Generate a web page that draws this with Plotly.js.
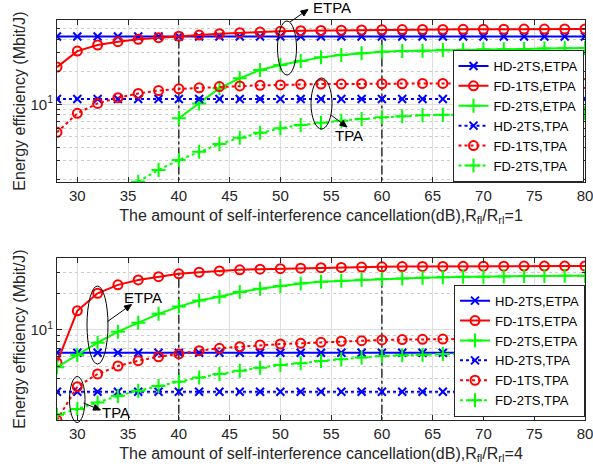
<!DOCTYPE html>
<html>
<head>
<meta charset="utf-8">
<script src="https://cdn.plot.ly/plotly-3.0.1.min.js"></script>
<style>
html,body{margin:0;padding:0;background:#fff;}
#chart{width:593px;height:467px;}
</style>
</head>
<body>
<div id="chart"></div>
<script>
// ---------- data ----------
const cancellation = [28,30,32,34,36,38,40,42,44,46,48,50,52,54,56,58,60,62,64,66,68,70,72,74,76,78,80];
const seriesNames = ['HD-2TS,ETPA','FD-1TS,ETPA','FD-2TS,ETPA','HD-2TS,TPA','FD-1TS,TPA','FD-2TS,TPA'];
const refLines = [40, 60];

// top panel, R_fl/R_rl = 1
const top_hd2ts_etpa = [42.5,42.5,42.5,42.5,42.5,42.5,42.5,42.5,42.5,42.5,42.5,42.5,42.5,42.5,42.5,42.5,42.5,42.5,42.5,42.5,42.5,42.5,42.5,42.5,42.5,42.5,42.5];
const top_fd1ts_etpa = [22.1,31.1,35.4,38.0,40.0,41.4,42.7,43.8,45.1,46.0,46.7,47.4,48.0,48.3,48.6,48.8,49.0,49.2,49.3,49.4,49.5,49.6,49.6,49.7,49.7,49.8,49.8];
const top_fd2ts_etpa = [null,null,null,null,null,null,7.42,10.2,14.1,17.4,20.8,23.1,25.2,27.2,28.6,29.7,30.7,31.1,31.4,31.8,32.0,32.3,32.4,32.6,32.8,33.0,33.2];
const top_hd2ts_tpa  = [11.2,11.2,11.2,11.2,11.2,11.2,11.2,11.2,11.2,11.2,11.2,11.2,11.2,11.2,11.2,11.2,11.2,11.2,11.2,11.2,11.2,11.2,11.2,11.2,11.2,11.2,11.2];
const top_fd1ts_tpa  = [5.5,8.25,10.2,11.5,12.6,13.4,13.9,14.2,14.6,14.8,15.0,15.1,15.3,15.4,15.4,15.5,15.5,15.5,15.6,15.6,15.6,15.6,15.6,15.6,15.6,15.6,15.6];
const top_fd2ts_tpa  = [null,null,null,null,1.92,2.47,3.05,3.64,4.28,4.91,5.46,5.99,6.43,6.76,7.05,7.31,7.58,7.74,7.91,8.01,8.07,8.12,8.16,8.2,8.23,8.26,8.3];

// bottom panel, R_fl/R_rl = 4
const bot_hd2ts_etpa = [6.49,6.49,6.49,6.49,6.49,6.49,6.49,6.49,6.49,6.49,6.49,6.49,6.49,6.49,6.49,6.49,6.49,6.49,6.49,6.49,6.49,6.49,6.49,6.49,6.49,6.49,6.49];
const bot_fd1ts_etpa = [5.37,14.4,20.1,23.6,25.9,27.6,29.1,30.0,30.8,31.4,31.8,32.1,32.4,32.7,32.9,33.1,33.3,33.4,33.5,33.55,33.6,33.65,33.7,33.72,33.75,33.78,33.8];
const bot_fd2ts_etpa = [4.92,6.21,7.85,9.68,11.5,13.6,15.6,17.5,18.8,20.6,21.9,23.1,24.2,25.1,25.5,26.0,26.4,26.7,27.0,27.3,27.5,27.6,27.7,27.9,28.0,28.1,28.1];
const bot_hd2ts_tpa  = [3.09,3.09,3.09,3.09,3.09,3.09,3.09,3.09,3.09,3.09,3.09,3.09,3.09,3.09,3.09,3.09,3.09,3.09,3.09,3.09,3.09,3.09,3.09,3.09,3.09,3.09,3.09];
const bot_fd1ts_tpa  = [1.80,3.40,4.33,5.04,5.57,6.01,6.34,6.75,7.06,7.28,7.52,7.66,7.76,7.91,8.07,8.16,8.27,8.33,8.38,8.42,8.44,8.46,8.48,8.49,8.5,8.5,8.5];
const bot_fd2ts_tpa  = [1.99,2.22,2.52,2.85,3.15,3.45,3.74,4.04,4.33,4.61,4.88,5.14,5.3,5.55,5.73,5.91,6.09,6.18,6.25,6.34,6.38,6.42,6.45,6.47,6.49,6.5,6.52];

const xTitles = ['The amount of self-interference cancellation(dB),R<sub>fl</sub>/R<sub>rl</sub>=1',
                 'The amount of self-interference cancellation(dB),R<sub>fl</sub>/R<sub>rl</sub>=4'];
const yTitle = 'Energy efficiency (Mbit/J)';

// ---------- layout geometry ----------
const W = 593, H = 467, ML = 57, MR = 8, MT = 20, MB = 47;
const PW = W - ML - MR, PH = H - MT - MB;
const px = v => (v - ML) / PW;
const py = v => (H - MB - v) / PH;
const topRange = [0.2806, 1.7806];
const botRange = [0.256, 1.595];

const FONT = 'Liberation Sans, Arial, Helvetica, sans-serif';
const AX = '#262626';
const BLUE = 'rgb(0,0,255)', RED = 'rgb(255,0,0)', GREEN = 'rgb(0,255,0)';

const styles = [
  {color: BLUE,  symbol: 'x-thin',      size: 8,  dash: 'solid'},
  {color: RED,   symbol: 'circle-open', size: 9,  dash: 'solid'},
  {color: GREEN, symbol: 'cross-thin',  size: 10, dash: 'solid'},
  {color: BLUE,  symbol: 'x-thin',      size: 8,  dash: 'dot'},
  {color: RED,   symbol: 'circle-open', size: 9,  dash: 'dot'},
  {color: GREEN, symbol: 'cross-thin',  size: 10, dash: 'dot'}
];

const topSeries = [top_hd2ts_etpa, top_fd1ts_etpa, top_fd2ts_etpa, top_hd2ts_tpa, top_fd1ts_tpa, top_fd2ts_tpa];
const botSeries = [bot_hd2ts_etpa, bot_fd1ts_etpa, bot_fd2ts_etpa, bot_hd2ts_tpa, bot_fd1ts_tpa, bot_fd2ts_tpa];

const traces = [];
function addRefLines(series, xa, ya, range) {
  refLines.forEach(xv => {
    const i = cancellation.indexOf(xv);
    traces.push({x: [xv, xv], y: [Math.pow(10, range[0]) * 0.8, series[i]], xaxis: xa, yaxis: ya,
      mode: 'lines', line: {color: '#000', width: 1.2, dash: 'dashdot'}, showlegend: false, hoverinfo: 'skip'});
  });
}
addRefLines(top_fd1ts_etpa, 'x', 'y', topRange);
addRefLines(bot_fd1ts_etpa, 'x2', 'y2', botRange);

function addSeries(list, xa, ya, legendId) {
  list.forEach((ys, k) => {
    const s = styles[k];
    traces.push({x: cancellation, y: ys, name: seriesNames[k], xaxis: xa, yaxis: ya, legend: legendId,
      mode: 'lines+markers', connectgaps: false,
      line: {color: s.color, width: 2, dash: s.dash},
      marker: {symbol: s.symbol, size: s.size, color: s.color, line: {color: s.color, width: 2}},
      hoverinfo: 'x+y+name'});
  });
}
addSeries(topSeries, 'x', 'y', 'legend');
addSeries(botSeries, 'x2', 'y2', 'legend2');

function xaxisCfg(title, anchor) {
  return {
    range: [28, 80], tick0: 0, dtick: 5, anchor: anchor,
    ticks: 'inside', ticklen: 5, tickcolor: AX, tickwidth: 1, mirror: 'ticks',
    showline: true, linecolor: AX, linewidth: 1, ticklabeloverflow: 'allow',
    showgrid: true, gridcolor: '#dedede', gridwidth: 1, zeroline: false,
    tickfont: {family: FONT, size: 15, color: AX},
    title: {text: title, font: {family: FONT, size: 16, color: AX}, standoff: 6}
  };
}
function yaxisCfg(range, domain, anchor) {
  return {
    type: 'log', range: range, domain: domain, anchor: anchor,
    tickmode: 'array', tickvals: [1, 10, 100], ticktext: ['10<sup>0</sup>', '10<sup>1</sup>', '10<sup>2</sup>'],
    ticks: 'inside', ticklen: 5, tickcolor: AX, tickwidth: 1, mirror: 'ticks',
    showline: true, linecolor: AX, linewidth: 1,
    showgrid: true, gridcolor: '#dedede', gridwidth: 1, zeroline: false,
    minor: {dtick: 'D1', ticks: 'inside', ticklen: 3, tickcolor: AX, showgrid: true, gridcolor: '#cccccc', griddash: 'dot', gridwidth: 1},
    tickfont: {family: FONT, size: 15, color: AX},
    title: {text: yTitle, font: {family: FONT, size: 16, color: AX}, standoff: 0}
  };
}

function legendCfg(xr, yb) {
  return {x: px(xr), xanchor: 'right', y: py(yb), yanchor: 'bottom',
    bgcolor: '#ffffff', bordercolor: AX, borderwidth: 1, traceorder: 'normal',
    font: {family: FONT, size: 13, color: '#000'}, itemwidth: 30, tracegroupgap: 0};
}

function ellipse(x0, x1, y0, y1) {
  return {type: 'circle', xref: 'paper', yref: 'paper', x0: px(x0), x1: px(x1), y0: py(y1), y1: py(y0),
    line: {color: '#000', width: 1}, fillcolor: 'rgba(0,0,0,0)'};
}
// arrow drawn as a line plus a filled head (pixel inputs converted to paper)
function arrowShapes(tx, ty, hx, hy) {
  const dx = hx - tx, dy = hy - ty, len = Math.hypot(dx, dy);
  const ux = dx / len, uy = dy / len, nx = -uy, ny = ux;
  const L = 7, w = 3;
  const bx = hx - L * ux, by = hy - L * uy;
  const p1 = [bx + w * nx, by + w * ny], p2 = [bx - w * nx, by - w * ny];
  const pt = (x, y) => px(x).toFixed(5) + ',' + py(y).toFixed(5);
  return [
    {type: 'line', xref: 'paper', yref: 'paper', x0: px(tx), y0: py(ty), x1: px(bx), y1: py(by), line: {color: '#000', width: 1}},
    {type: 'path', xref: 'paper', yref: 'paper', path: 'M' + pt(hx, hy) + 'L' + pt(p1[0], p1[1]) + 'L' + pt(p2[0], p2[1]) + 'Z',
      fillcolor: '#000', line: {color: '#000', width: 1}}
  ];
}
function label(t, cx, cy) {
  return {xref: 'paper', yref: 'paper', x: px(cx), y: py(cy), text: t, showarrow: false,
    xanchor: 'center', yanchor: 'middle', font: {family: FONT, size: 15, color: '#000'}};
}

const layout = {
  width: W, height: H, margin: {l: ML, r: MR, t: MT, b: MB, pad: 0},
  paper_bgcolor: '#fff', plot_bgcolor: '#fff', showlegend: true,
  xaxis: xaxisCfg(xTitles[0], 'y'),
  xaxis2: xaxisCfg(xTitles[1], 'y2'),
  yaxis: yaxisCfg(topRange, [py(182), 1], 'x'),
  yaxis2: yaxisCfg(botRange, [0, py(258)], 'x2'),
  legend: legendCfg(583.5, 182),
  legend2: legendCfg(585, 416.7),
  shapes: [
    ellipse(277.5, 296.5, 21, 75),
    ellipse(311, 332, 78, 129),
    ellipse(87, 108, 286, 364),
    ellipse(69.5, 85, 376.5, 422.5)
  ].concat(
    arrowShapes(290, 22, 308, 9.5),
    arrowShapes(331, 115, 347, 127),
    arrowShapes(107.5, 321.5, 131.5, 304.5),
    arrowShapes(83.5, 403, 100.5, 410)
  ),
  annotations: [
    label('ETPA', 332, 8),
    label('TPA', 349, 135),
    label('ETPA', 142.5, 297),
    label('TPA', 116, 412.5)
  ]
};

Plotly.newPlot('chart', traces, layout, {staticPlot: true, displayModeBar: false});
</script>
</body>
</html>
